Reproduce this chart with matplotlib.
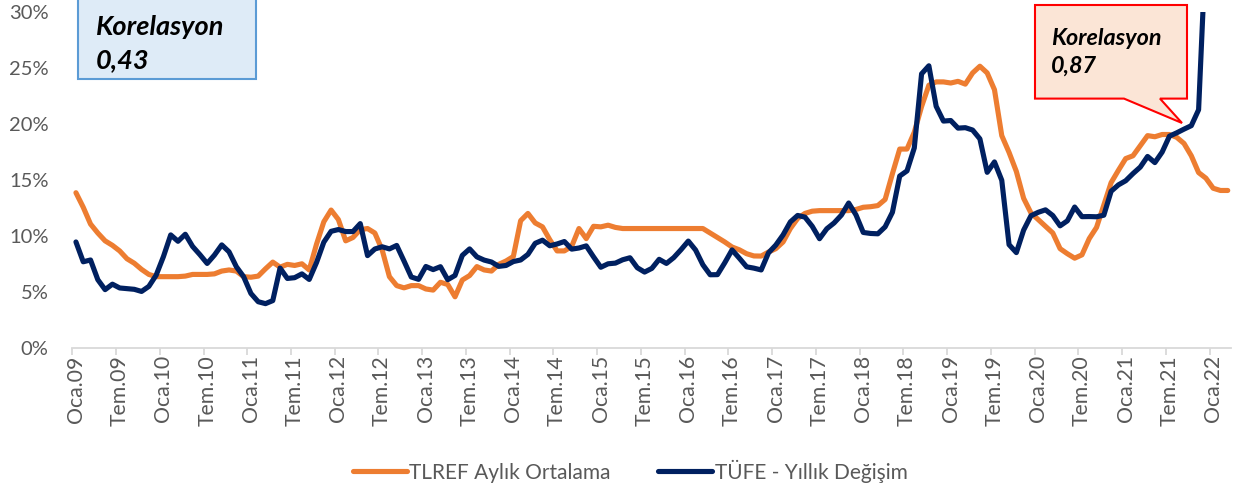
import numpy as np
import matplotlib
matplotlib.use("Agg")
import matplotlib.pyplot as plt
from matplotlib.patches import Polygon, Rectangle
from matplotlib.lines import Line2D

# ---------------- data ----------------
years = list(range(9, 23))
months_tr = ["Oca", "Şub", "Mar", "Nis", "May", "Haz", "Tem", "Ağu", "Eyl", "Eki", "Kas", "Ara"]
periods = [f"{m}.{y:02d}" for y in years for m in months_tr][:159]   # Oca.09 .. Mar.22

tlref = [
    # 2009
    13.9, 12.6, 11.1, 10.3, 9.6, 9.2, 8.7, 8.0, 7.6, 7.05, 6.6, 6.4,
    # 2010
    6.4, 6.4, 6.4, 6.45, 6.6, 6.6, 6.6, 6.65, 6.9, 7.0, 6.9, 6.4,
    # 2011
    6.35, 6.45, 7.1, 7.7, 7.25, 7.5, 7.4, 7.55, 7.0, 9.3, 11.3, 12.35,
    # 2012
    11.5, 9.6, 9.9, 10.6, 10.7, 10.3, 8.8, 6.4, 5.6, 5.4, 5.6, 5.6,
    # 2013
    5.3, 5.2, 5.9, 5.7, 4.6, 6.1, 6.5, 7.3, 7.0, 6.9, 7.5, 7.8,
    # 2014
    8.2, 11.4, 12.05, 11.2, 10.85, 9.7, 8.7, 8.7, 9.1, 10.7, 9.8, 10.9,
    # 2015
    10.85, 11.0, 10.8, 10.7, 10.7, 10.7, 10.7, 10.7, 10.7, 10.7, 10.7, 10.7,
    # 2016
    10.7, 10.7, 10.7, 10.3, 9.9, 9.5, 9.05, 8.8, 8.45, 8.25, 8.24, 8.6,
    # 2017
    8.9, 9.5, 10.7, 11.6, 12.05, 12.25, 12.3, 12.3, 12.3, 12.3, 12.3, 12.4,
    # 2018
    12.6, 12.65, 12.75, 13.3, 15.6, 17.8, 17.8, 19.3, 21.6, 23.5, 23.8, 23.8,
    # 2019
    23.7, 23.85, 23.6, 24.6, 25.2, 24.6, 23.1, 19.0, 17.5, 15.8, 13.4, 12.1,
    # 2020
    11.5, 10.9, 10.3, 8.9, 8.45, 8.05, 8.35, 9.8, 10.8, 12.8, 14.8, 15.9,
    # 2021
    16.95, 17.2, 18.1, 19.0, 18.9, 19.1, 19.1, 18.85, 18.3, 17.2, 15.7, 15.2,
    # 2022
    14.3, 14.1, 14.1,
]

tufe = [
    # 2009
    9.50, 7.73, 7.89, 6.13, 5.24, 5.73, 5.39, 5.33, 5.27, 5.08, 5.53, 6.53,
    # 2010
    8.19, 10.13, 9.56, 10.19, 9.10, 8.37, 7.58, 8.33, 9.24, 8.62, 7.29, 6.40,
    # 2011
    4.90, 4.16, 3.99, 4.26, 7.17, 6.24, 6.31, 6.65, 6.15, 7.66, 9.48, 10.45,
    # 2012
    10.61, 10.43, 10.43, 11.14, 8.28, 8.87, 9.07, 8.88, 9.19, 7.80, 6.37, 6.16,
    # 2013
    7.31, 7.03, 7.29, 6.13, 6.51, 8.30, 8.88, 8.17, 7.88, 7.71, 7.32, 7.40,
    # 2014
    7.75, 7.89, 8.39, 9.38, 9.66, 9.16, 9.32, 9.54, 8.86, 8.96, 9.15, 8.17,
    # 2015
    7.24, 7.55, 7.61, 7.91, 8.09, 7.20, 6.81, 7.14, 7.95, 7.58, 8.10, 8.81,
    # 2016
    9.58, 8.78, 7.46, 6.57, 6.58, 7.64, 8.79, 8.05, 7.28, 7.16, 7.00, 8.53,
    # 2017
    9.22, 10.13, 11.29, 11.87, 11.72, 10.90, 9.79, 10.68, 11.20, 11.90, 12.98, 11.92,
    # 2018
    10.35, 10.26, 10.23, 10.85, 12.15, 15.39, 15.85, 17.90, 24.52, 25.24, 21.62, 20.30,
    # 2019
    20.35, 19.67, 19.71, 19.50, 18.71, 15.72, 16.65, 15.01, 9.26, 8.55, 10.56, 11.84,
    # 2020
    12.15, 12.37, 11.86, 10.94, 11.39, 12.62, 11.76, 11.77, 11.75, 11.89, 14.03, 14.60,
    # 2021
    14.97, 15.61, 16.19, 17.14, 16.59, 17.53, 18.95, 19.25, 19.58, 19.89, 21.31, 36.08,
]

series_names = ["TLREF Aylık Ortalama", "TÜFE - Yıllık Değişim"]
yticks = [0, 5, 10, 15, 20, 25, 30]
box_texts = [("Korelasyon", "0,43"), ("Korelasyon", "0,87")]

# ---------------- style ----------------
FONT = ["Lato", "DejaVu Sans"]
plt.rcParams["font.family"] = FONT
GRAY = "#595959"
ORANGE = "#ED7D31"
NAVY = "#002060"

W, H = 1235, 495
fig = plt.figure(figsize=(W / 100, H / 100), dpi=100)

def fx(px):
    return px / W

def fy(py):
    return 1 - py / H

left, right, top, bottom = 72.3, 1231.4, 12.5, 348.3
ax = fig.add_axes([fx(left), fy(bottom), fx(right - left), (bottom - top) / H])

x_t = np.arange(len(tlref))
x_c = np.arange(len(tufe))
ax.plot(x_t, tlref, color=ORANGE, lw=3.7, solid_joinstyle="round", solid_capstyle="round", zorder=2)
ax.plot(x_c, tufe, color=NAVY, lw=3.7, solid_joinstyle="round", solid_capstyle="round", zorder=3)

ax.set_xlim(-0.5, len(periods) - 0.5)
ax.set_ylim(0, 30)

for s in ["top", "right", "left"]:
    ax.spines[s].set_visible(False)
ax.spines["bottom"].set_color("#D9D9D9")
ax.spines["bottom"].set_linewidth(1.3)

ax.set_yticks(yticks)
ax.set_yticklabels([f"{v}%" for v in yticks])
ax.tick_params(axis="y", length=0, pad=17, labelsize=14.5, labelcolor=GRAY)

lab_idx = list(range(0, len(periods), 6))
ax.set_xticks(lab_idx)
ax.set_xticklabels([periods[i] for i in lab_idx], rotation=90)
ax.tick_params(axis="x", which="major", length=0, pad=5, labelsize=15.3, labelcolor=GRAY)
ax.set_xticks(np.arange(-0.5, len(periods) - 1, 6), minor=True)
ax.tick_params(axis="x", which="minor", length=5, width=1.3, color="#D9D9D9")

# legend
handles = [Line2D([], [], color=ORANGE, lw=3.7, solid_capstyle="round"),
           Line2D([], [], color=NAVY, lw=3.7, solid_capstyle="round")]
leg = fig.legend(handles, series_names, loc="center", bbox_to_anchor=(fx(630), fy(471)),
                 ncol=2, frameon=False, fontsize=15, handlelength=2.6, handletextpad=0.1,
                 columnspacing=2.3)
for t in leg.get_texts():
    t.set_color(GRAY)

# left text box
fig.patches.append(Rectangle((fx(78), fy(79)), fx(256 - 78), 81 / H, transform=fig.transFigure,
                             facecolor="#DEEBF7", edgecolor="#5B9BD5", lw=1.5, zorder=5))
fig.text(fx(96), fy(35), box_texts[0][0], fontsize=19.5, fontweight="bold", fontstyle="italic",
         color="black", va="baseline", ha="left", zorder=6)
fig.text(fx(96), fy(68), box_texts[0][1], fontsize=19.5, fontweight="bold", fontstyle="italic",
         color="black", va="baseline", ha="left", zorder=6)

# right callout
pts = [(1035, 5), (1187, 5), (1187, 98.6), (1160, 98.6), (1182, 123), (1124, 98.6), (1035, 98.6)]
fig.patches.append(Polygon([(fx(a), fy(b)) for a, b in pts], closed=True, transform=fig.transFigure,
                           facecolor="#FBE5D6", edgecolor="#FF0000", lw=1.5, zorder=5))
fig.text(fx(1051), fy(45), box_texts[1][0], fontsize=16.8, fontweight="bold", fontstyle="italic",
         color="black", va="baseline", ha="left", zorder=6)
fig.text(fx(1051), fy(73), box_texts[1][1], fontsize=16.8, fontweight="bold", fontstyle="italic",
         color="black", va="baseline", ha="left", zorder=6)

fig.savefig("out.png", dpi=100)
